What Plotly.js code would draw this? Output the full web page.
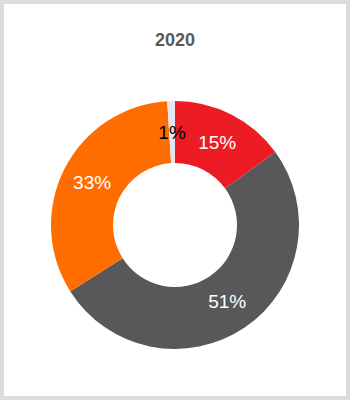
<!DOCTYPE html>
<html>
<head>
<meta charset="utf-8">
<script src="https://cdn.plot.ly/plotly-3.0.1.min.js"></script>
<style>
html,body{margin:0;padding:0;background:#fff;}
#frame{position:absolute;left:0;top:0;width:342px;height:392px;border:4px solid #dcdcdc;background:#fff;}
#chart{position:absolute;left:1px;top:1px;width:340px;height:390px;}
</style>
</head>
<body>
<div id="frame"><div id="chart"></div></div>
<script>
const categories = ["A", "B", "C", "D"];
const values = [15, 51, 33, 1];
const labelsText = ["15%", "51%", "33%", "1%"];
const colors = ["#ED1C24", "#58585A", "#FF6D00", "#E7E4F1"];

const fontFam = "Liberation Sans, Arial, sans-serif";

// main ring: labels inside for the larger slices
const ring = {
  type: "pie",
  labels: categories,
  values: values,
  text: labelsText,
  textinfo: "text",
  hole: 0.5,
  sort: false,
  direction: "clockwise",
  rotation: 0,
  marker: {colors: colors, line: {width: 0}},
  textposition: values.map(v => (v < 5 ? "none" : "inside")),
  insidetextorientation: "horizontal",
  insidetextfont: {family: fontFam, size: 19, color: "#ffffff"},
  showlegend: false,
  domain: {x: [0, 1], y: [0, 1]}
};

// transparent inner copy that carries the label of the tiny slice at mid-ring
const tinyLabel = {
  type: "pie",
  labels: categories,
  values: values,
  text: labelsText.map((t, i) => (values[i] < 5 ? t : "")),
  textinfo: "text",
  hole: 0.5,
  sort: false,
  direction: "clockwise",
  rotation: 0,
  marker: {colors: ["rgba(0,0,0,0)", "rgba(0,0,0,0)", "rgba(0,0,0,0)", "rgba(0,0,0,0)"], line: {width: 0}},
  textposition: values.map(v => (v < 5 ? "inside" : "none")),
  insidetextorientation: "horizontal",
  insidetextfont: {family: fontFam, size: 19, color: "#000000"},
  showlegend: false,
  domain: {x: [0.115, 0.885], y: [0.115, 0.885]}
};

const layout = {
  width: 340,
  height: 390,
  margin: {l: 46, r: 46, t: 96, b: 46},
  paper_bgcolor: "#ffffff",
  plot_bgcolor: "#ffffff",
  title: {text: "<b>2020</b>", x: 0.5, xanchor: "center", y: 0.91, yanchor: "middle",
          font: {family: fontFam, size: 18, color: "#595959"}},
  uniformtext: {mode: "show", minsize: 19}
};

Plotly.newPlot("chart", [ring, tinyLabel], layout, {displayModeBar: false, staticPlot: true});
</script>
</body>
</html>
